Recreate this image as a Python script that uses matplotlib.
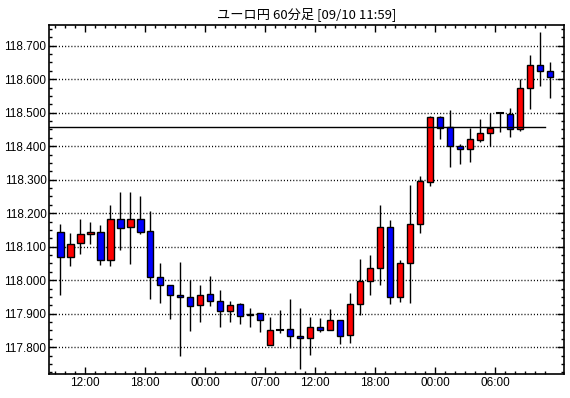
import numpy as np
import matplotlib
matplotlib.use("Agg")
from matplotlib import pyplot as plt
from matplotlib.patches import Rectangle
from matplotlib.ticker import MultipleLocator, FixedLocator

# hourly candles 09/08 09:00 -> 09/10 11:00 (06:00 on 09/09 missing)
opens = [118.143, 118.069, 118.110, 118.137, 118.143, 118.060, 118.182, 118.158, 118.182, 118.146,
         118.009, 117.985, 117.955, 117.949, 117.925, 117.958, 117.939, 117.909, 117.928, 117.895,
         117.901, 117.808, 117.852, 117.853, 117.832, 117.826, 117.860, 117.851, 117.881, 117.836,
         117.928, 117.997, 118.036, 118.158, 117.949, 118.051, 118.167, 118.294, 118.488, 118.457,
         118.399, 118.390, 118.419, 118.440, 118.498, 118.497, 118.452, 118.575, 118.643, 118.625]
highs = [118.168, 118.141, 118.183, 118.174, 118.165, 118.225, 118.262, 118.264, 118.250, 118.207,
         118.052, 117.985, 118.054, 118.001, 117.986, 118.012, 117.970, 117.937, 117.932, 117.916,
         117.901, 117.890, 117.910, 117.945, 117.916, 117.890, 117.887, 117.913, 117.881, 117.962,
         118.064, 118.075, 118.225, 118.179, 118.061, 118.285, 118.310, 118.491, 118.491, 118.507,
         118.405, 118.455, 118.480, 118.500, 118.499, 118.513, 118.599, 118.671, 118.742, 118.652]
lows = [117.957, 118.041, 118.077, 118.108, 118.044, 118.041, 118.089, 118.047, 118.139, 117.943,
        117.933, 117.883, 117.775, 117.847, 117.876, 117.923, 117.860, 117.876, 117.870, 117.860,
        117.846, 117.808, 117.841, 117.799, 117.736, 117.778, 117.844, 117.851, 117.811, 117.814,
        117.895, 117.956, 117.987, 117.930, 117.936, 117.933, 118.140, 118.282, 118.421, 118.338,
        118.347, 118.353, 118.413, 118.399, 118.443, 118.427, 118.446, 118.511, 118.581, 118.545]
closes = [118.069, 118.108, 118.138, 118.144, 118.060, 118.182, 118.155, 118.182, 118.143, 118.009,
          117.985, 117.955, 117.949, 117.922, 117.955, 117.939, 117.909, 117.927, 117.894, 117.900,
          117.880, 117.851, 117.852, 117.832, 117.826, 117.859, 117.851, 117.881, 117.833, 117.928,
          117.997, 118.036, 118.158, 117.949, 118.051, 118.167, 118.296, 118.488, 118.455, 118.399,
          118.390, 118.422, 118.440, 118.455, 118.498, 118.452, 118.575, 118.643, 118.625, 118.607]
ref_price = 118.457

tick_idx = [3, 9, 15, 21, 26, 32, 38, 44]
tick_labels = ["12:00", "18:00", "00:00", "07:00", "12:00", "18:00", "00:00", "06:00"]
title = "ユーロ円 60分足 [09/10 11:59]"

fig = plt.figure(figsize=(5.7, 3.98), dpi=100)
ax = fig.add_axes([0.0865, 0.0603, 0.9030, 0.8781])

w = 0.65
for i, (o, h, l, c) in enumerate(zip(opens, highs, lows, closes)):
    ax.plot([i, i], [l, h], color="black", lw=1.0, zorder=3, solid_capstyle="butt")
    if abs(c - o) < 0.0015:
        # doji: just a dash
        ax.plot([i - w / 2, i + w / 2], [o, o], color="black", lw=1.5, zorder=4)
        continue
    col = "#ff0000" if c > o else "#0000ff"
    ax.add_patch(Rectangle((i - w / 2, min(o, c)), w, abs(c - o),
                           facecolor=col, edgecolor="black", lw=1.0, zorder=4))

ax.plot([-1.1, 48.5], [ref_price, ref_price], color="black", lw=1.0, zorder=5)

ax.set_xlim(-1.1, 50.4)
ax.set_ylim(117.720, 118.763)

yt = np.arange(117.8, 118.75, 0.1)
ax.set_yticks(yt)
ax.set_yticklabels([f"{v:.3f}" for v in yt])
ax.yaxis.set_minor_locator(MultipleLocator(0.025))
ax.set_xticks([i - 0.5 for i in tick_idx])
ax.set_xticklabels(tick_labels)
ax.xaxis.set_minor_locator(FixedLocator([i - 0.5 for i in range(50)]))

ax.grid(axis="y", which="major", color="black", lw=1.0, linestyle=(0, (0.75, 1.5)))
ax.tick_params(which="both", direction="in", top=True, right=True, colors="black",
               labelsize=8.5, pad=2)
ax.tick_params(which="major", length=5, width=1)
ax.tick_params(which="minor", length=2.5, width=1)
for lab in ax.get_xticklabels() + ax.get_yticklabels():
    lab.set_family("Liberation Sans")
for s in ax.spines.values():
    s.set_linewidth(1.2)

fig.text(0.538, 0.965, title, ha="center", va="center", fontsize=9.5,
         family=["Noto Sans CJK JP", "DejaVu Sans"])

fig.savefig("out.png", dpi=100)
